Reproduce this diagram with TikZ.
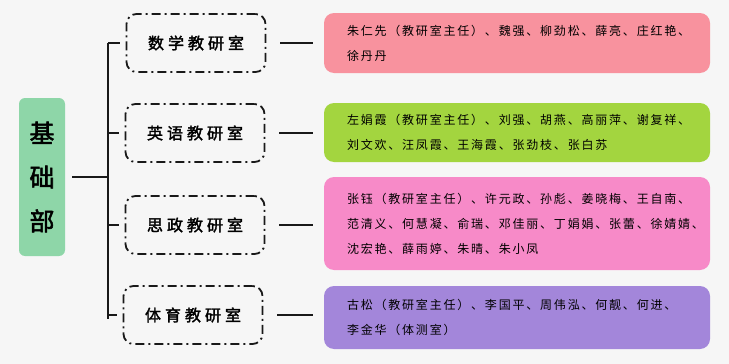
\documentclass[tikz,border=0pt]{standalone}
\usepackage{fontspec}
\setmainfont{Noto Sans CJK SC}
\newfontfamily\orgMemFont[LetterSpace=15]{Noto Sans CJK SC}
\newfontfamily\orgDeptFont[LetterSpace=25,AutoFakeBold=2]{Noto Sans CJK SC}
\newfontfamily\orgRootFont[AutoFakeBold=2]{Noto Sans CJK SC}
\definecolor{orgBg}{HTML}{F6F6F6}
\definecolor{orgRootC}{HTML}{8ED6A8}
\definecolor{orgPinkA}{HTML}{F8929E}
\definecolor{orgGreenB}{HTML}{A3D53F}
\definecolor{orgPinkC}{HTML}{F78AC8}
\definecolor{orgPurpD}{HTML}{A386DA}
\begin{document}
\begin{tikzpicture}[x=1pt,y=-1pt,
    orgRootB/.style={rectangle,rounded corners=6pt,fill=orgRootC,minimum width=46pt,minimum height=158pt,inner sep=0pt,align=center,font=\orgRootFont\bfseries\fontsize{25}{44}\selectfont},
    orgDeptB/.style={rectangle,rounded corners=10pt,draw=black!90,line width=1.8pt,dash pattern=on 9pt off 4pt on 2pt off 4pt,minimum width=139pt,minimum height=58pt,font=\orgDeptFont\bfseries\fontsize{16}{18}\selectfont},
    orgMemB/.style={rectangle,rounded corners=10pt,minimum width=386pt,inner xsep=23pt,text width=340pt,align=left,font=\orgMemFont\fontsize{12}{25}\selectfont},
    orgLink/.style={line width=1.8pt,black!90},
]
\fill[orgBg] (0,0) rectangle (729,364);
\useasboundingbox (0,0) rectangle (729,364);
\node[orgRootB] (JC) at (42,177) {基\\础\\部};
\node[orgDeptB] (SX) at (196,43) {数学教研室};
\node[orgDeptB] (YY) at (195,133) {英语教研室};
\node[orgDeptB] (SZ) at (195,225) {思政教研室};
\node[orgDeptB] (TY) at (193,315) {体育教研室};
\node[orgMemB,fill=orgPinkA,minimum height=60pt] (SXm) at (517,43) {朱仁先（教研室主任）、魏强、柳劲松、薛亮、庄红艳、\\徐丹丹};
\node[orgMemB,fill=orgGreenB,minimum height=59pt] (YYm) at (517,132.5) {左娟霞（教研室主任）、刘强、胡燕、高丽萍、谢复祥、\\刘文欢、汪凤霞、王海霞、张劲枝、张白苏};
\node[orgMemB,fill=orgPinkC,minimum height=93pt] (SZm) at (517,223.5) {张钰（教研室主任）、许元政、孙彪、姜晓梅、王自南、\\范清义、何慧凝、俞瑞、邓佳丽、丁娟娟、张蕾、徐婧婧、\\沈宏艳、薛雨婷、朱晴、朱小凤};
\node[orgMemB,fill=orgPurpD,minimum height=63pt] (TYm) at (517,317.5) {古松（教研室主任）、李国平、周伟泓、何靓、何进、\\李金华（体测室）};
% trunk
\coordinate (trk) at (108,177);
\draw[orgLink,shorten <=7pt] (JC.east) -- (trk);
\draw[orgLink] (108,43) -- (108,319);
\foreach \d in {SX,YY,SZ,TY}{
  \draw[orgLink,shorten >=6pt] (108,0 |- \d.west) -- (\d.west);
  \draw[orgLink,shorten <=14pt,shorten >=11pt] (\d.east) -- (\d.east -| \d m.west);
}
\end{tikzpicture}
\end{document}
